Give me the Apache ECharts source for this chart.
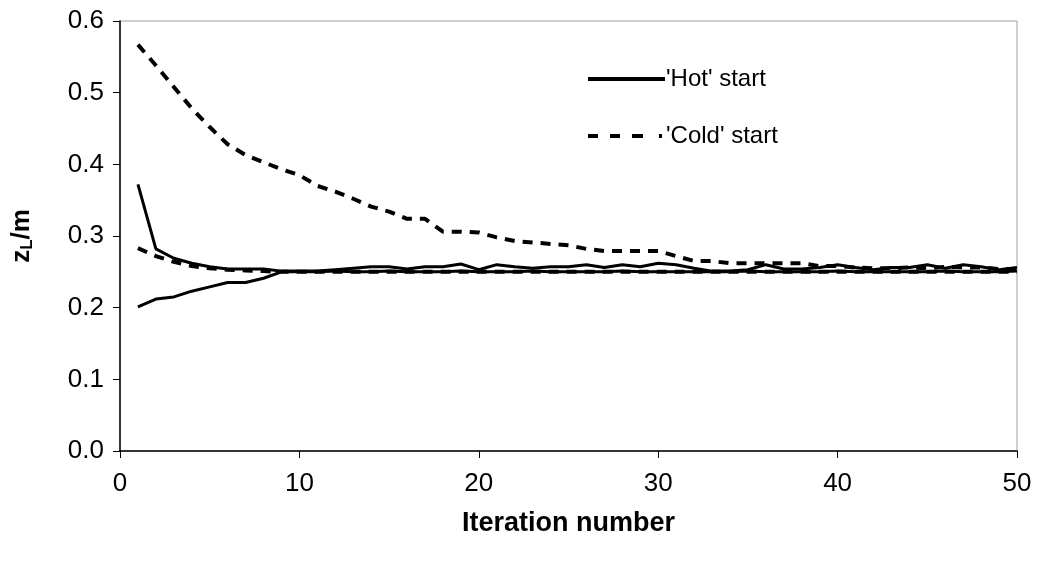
<!DOCTYPE html>
<html>
<head>
<meta charset="utf-8">
<script src="https://cdn.jsdelivr.net/npm/echarts@6/dist/echarts.min.js"></script>
<style>html,body{margin:0;padding:0;background:#fff;}#c{width:1038px;height:563px;}</style>
</head>
<body>
<div id="c"></div>
<script>
var iterations = [1,2,3,4,5,6,7,8,9,10,11,12,13,14,15,16,17,18,19,20,21,22,23,24,25,26,27,28,29,30,31,32,33,34,35,36,37,38,39,40,41,42,43,44,45,46,47,48,49,50];
var hotHigh = [0.372,0.282,0.269,0.262,0.257,0.254,0.254,0.254,0.251,0.251,0.251,0.253,0.255,0.257,0.257,0.254,0.257,0.257,0.261,0.253,0.260,0.257,0.255,0.257,0.257,0.260,0.256,0.260,0.257,0.262,0.260,0.255,0.251,0.251,0.253,0.260,0.254,0.254,0.256,0.260,0.256,0.253,0.256,0.256,0.260,0.255,0.260,0.257,0.253,0.256];
var hotLow = [0.201,0.212,0.215,0.223,0.229,0.235,0.235,0.241,0.250,0.250,0.250,0.251,0.250,0.250,0.251,0.250,0.250,0.250,0.251,0.250,0.250,0.250,0.251,0.250,0.250,0.250,0.250,0.251,0.250,0.250,0.250,0.250,0.250,0.250,0.251,0.250,0.250,0.250,0.250,0.251,0.250,0.250,0.250,0.250,0.250,0.251,0.250,0.250,0.250,0.251];
var coldHigh = [0.567,0.538,0.508,0.478,0.452,0.428,0.413,0.403,0.393,0.385,0.370,0.362,0.352,0.341,0.334,0.324,0.324,0.306,0.306,0.305,0.298,0.293,0.291,0.289,0.287,0.282,0.279,0.279,0.279,0.279,0.272,0.265,0.265,0.262,0.262,0.262,0.262,0.262,0.258,0.258,0.256,0.255,0.255,0.256,0.255,0.257,0.256,0.256,0.254,0.254];
var coldLow = [0.283,0.272,0.264,0.258,0.255,0.253,0.252,0.251,0.250,0.250,0.250,0.250,0.250,0.250,0.250,0.250,0.250,0.250,0.250,0.250,0.250,0.250,0.250,0.250,0.250,0.250,0.250,0.250,0.250,0.250,0.250,0.250,0.250,0.250,0.250,0.250,0.250,0.250,0.250,0.250,0.250,0.250,0.250,0.250,0.250,0.250,0.250,0.250,0.250,0.250];
var xTicks = [0,10,20,30,40,50];
var yTicks = ['0.0','0.1','0.2','0.3','0.4','0.5','0.6'];
var seriesNames = ["'Hot' start", "'Cold' start"];

function pairs(vals){ return iterations.map(function(x,i){ return [x, vals[i]]; }); }

var FONT = 'Liberation Sans';
var chart = echarts.init(document.getElementById('c'), null, {renderer:'canvas'});
var solid = {color:'#000', width:3, type:'solid'};
var dashed = {color:'#000', width:4, type:[10,8]};
chart.setOption({
  animation:false,
  backgroundColor:'#fff',
  grid:{left:120, right:21, top:21, bottom:112, show:true, borderColor:'#a0a0a0', borderWidth:1, backgroundColor:'transparent'},
  legend:{
    data:[
      {name:seriesNames[0], icon:'path://M0,0h77v4h-77z'},
      {name:seriesNames[1], icon:'path://M0,0h10v4h-10z M22,0h10v4h-10z M44,0h11v4h-11z M71,0h3v4h-3z M74,0h3v0h-3z'}
    ],
    orient:'vertical', left:583, top:62, itemWidth:77, itemHeight:4, itemGap:33,
    textStyle:{fontFamily:FONT, fontSize:24, color:'#000', padding:[0,0,0,-4]}
  },
  xAxis:{
    type:'value', min:xTicks[0], max:xTicks[xTicks.length-1], interval:10,
    name:'Iteration number', nameLocation:'middle', nameGap:59,
    nameTextStyle:{fontFamily:FONT, fontSize:27, fontWeight:'bold', color:'#000'},
    axisLine:{lineStyle:{color:'#000', width:1.5}},
    axisTick:{length:7, lineStyle:{color:'#000'}},
    axisLabel:{fontFamily:FONT, fontSize:26, color:'#000', margin:20},
    splitLine:{show:false}
  },
  yAxis:{
    type:'value', min:0, max:0.6, interval:0.1,
    name:'{a|z}{b|L}{a|/m}', nameLocation:'middle', nameGap:84,
    nameTextStyle:{rich:{
      a:{fontFamily:FONT, fontSize:26, fontWeight:'bold', color:'#000', lineHeight:28},
      b:{fontFamily:FONT, fontSize:17, fontWeight:'bold', color:'#000', lineHeight:16, verticalAlign:'bottom'}
    }},
    axisLine:{show:true, lineStyle:{color:'#000', width:1.5}},
    axisTick:{show:true, length:7, lineStyle:{color:'#000'}},
    axisLabel:{fontFamily:FONT, fontSize:26, color:'#000', margin:16, formatter:function(v){ return yTicks[Math.round(v*10)]; }},
    splitLine:{show:false}
  },
  series:[
    {name:seriesNames[0], type:'line', data:pairs(hotHigh), symbol:'none', lineStyle:solid, itemStyle:{color:'#000'}},
    {name:seriesNames[1], type:'line', data:pairs(coldHigh), symbol:'none', lineStyle:dashed, itemStyle:{color:'#000'}},
    {name:seriesNames[0], type:'line', data:pairs(hotLow), symbol:'none', lineStyle:solid, itemStyle:{color:'#000'}},
    {name:seriesNames[1], type:'line', data:pairs(coldLow), symbol:'none', lineStyle:dashed, itemStyle:{color:'#000'}}
  ]
});
</script>
</body>
</html>
